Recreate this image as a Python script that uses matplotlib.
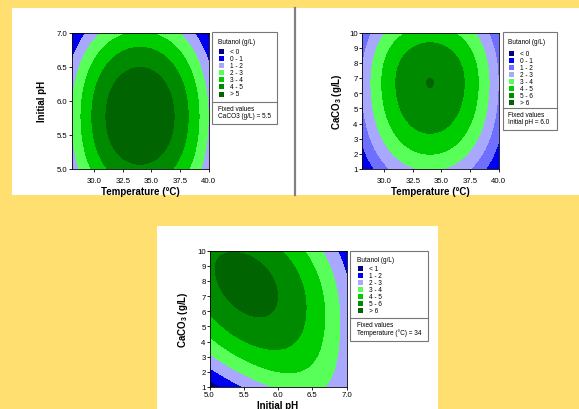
import numpy as np
import matplotlib
matplotlib.use('Agg')
import matplotlib.pyplot as plt
from matplotlib.patches import Rectangle

plt.rcParams['font.family'] = ['Liberation Sans', 'DejaVu Sans']
plt.rcParams['mathtext.fontset'] = 'custom'
plt.rcParams['mathtext.rm'] = 'Liberation Sans'
plt.rcParams['mathtext.bf'] = 'Liberation Sans:bold'

# ---- data ----
# each surface is described by its ridge: best butanol along x, the y where it sits,
# and how fast it falls off above / below that ridge (values at three x positions)
temp_knots = [28.0, 34.0, 40.0]
ph_knots = [5.0, 6.0, 7.0]

# top left: temperature vs initial pH, CaCO3 held at 5.5
p1_peak = [1.96, 6.00, 1.96]
p1_ridge = [5.77, 5.77, 5.77]
p1_curv_up = [1.50, 1.95, 1.50]
p1_curv_down = [1.20, 2.04, 1.20]

# top right: temperature vs CaCO3, pH held at 6.0
p2_peak = [1.96, 6.01, 1.96]
p2_ridge = [6.70, 6.70, 6.70]
p2_curv_up = [0.085, 0.147, 0.085]
p2_curv_down = [0.063, 0.090, 0.063]

# bottom: initial pH vs CaCO3, temperature held at 34
p3_peak = [5.85, 5.99, 2.50]
p3_ridge = [9.00, 7.00, 5.20]
p3_curv_up = [0.130, 0.095, 0.050]
p3_curv_down = [0.085, 0.080, 0.020]

levels_a = [-99, 0, 1, 2, 3, 4, 5, 99]
labels_a = ['< 0', '0 - 1', '1 - 2', '2 - 3', '3 - 4', '4 - 5', '> 5']
levels_b = [-99, 0, 1, 2, 3, 4, 5, 6, 99]
labels_b = ['< 0', '0 - 1', '1 - 2', '2 - 3', '3 - 4', '4 - 5', '5 - 6', '> 6']
levels_c = [-99, 1, 2, 3, 4, 5, 6, 99]
labels_c = ['< 1', '1 - 2', '2 - 3', '3 - 4', '4 - 5', '5 - 6', '> 6']

NAVY, BLUE, MID, LAV = '#000080', '#0000F0', '#6E6EFF', '#A8A8FF'
LGREEN, GREEN, DGREEN, DDGREEN = '#58FF58', '#00CD00', '#008A00', '#006400'
colors_a = [NAVY, BLUE, LAV, LGREEN, GREEN, DGREEN, DDGREEN]
colors_b = [NAVY, BLUE, MID, LAV, LGREEN, GREEN, DGREEN, DDGREEN]
colors_c = [NAVY, BLUE, LAV, LGREEN, GREEN, DGREEN, DDGREEN]

W, H = 579, 410
fig = plt.figure(figsize=(W / 100, H / 100), dpi=100)
fig.patch.set_facecolor('#FFDF70')

bg = fig.add_axes([0, 0, 1, 1])
bg.set_xlim(0, W)
bg.set_ylim(H, 0)
bg.axis('off')
bg.add_patch(Rectangle((12, 9), W - 12, 187, fc='white', ec='none'))
bg.add_patch(Rectangle((157, 227), 281, H - 227, fc='white', ec='none'))
bg.plot([295, 295], [9, 196], color='#808080', lw=1.6)


def surface(knots, peak, ridge, up, down, x, y):
    X, Y = np.meshgrid(x, y)
    q = lambda v: np.polyval(np.polyfit(knots, v, 2), X)
    d = Y - q(ridge)
    curv = np.where(d > 0, q(up), q(down))
    return X, Y, q(peak) - curv * d ** 2


def px_axes(x0, y0, x1, y1):
    ax = fig.add_axes([x0 / W, 1 - y1 / H, (x1 - x0) / W, (y1 - y0) / H])
    ax.set_zorder(2)
    return ax


def style(ax, xlabel, ylabel, ylab_x, xlab_y=-0.161, xpad=3.5):
    ax.tick_params(length=2, width=0.6, labelsize=5.6)
    ax.tick_params(axis='x', pad=xpad)
    ax.tick_params(axis='y', pad=0.8)
    for s in ax.spines.values():
        s.set_linewidth(0.6)
    ax.set_xlabel(xlabel, fontsize=7, fontweight='bold', va='center')
    ax.set_ylabel(ylabel, fontsize=7, fontweight='bold', va='center')
    ax.xaxis.set_label_coords(0.5, xlab_y)
    ax.yaxis.set_label_coords(ylab_x, 0.5)


def key(x0, x1, y0, ydiv, y1, tx, sqx, labx, row0, labels, colors, fixed):
    bg.add_patch(Rectangle((x0, y0), x1 - x0, y1 - y0, fc='white', ec='#777777', lw=0.8))
    bg.plot([x0, x1], [ydiv, ydiv], color='#777777', lw=0.8)
    bg.text(tx, y0 + 9, 'Butanol (g/L)', fontsize=4.7, va='center', ha='left')
    for i, (lab, col) in enumerate(zip(labels, colors)):
        yy = row0 + i * 7.05
        bg.add_patch(Rectangle((sqx, yy - 2.5), 5, 5, fc=col, ec='none'))
        bg.text(labx, yy, lab, fontsize=4.7, va='center', ha='left')
    bg.text(tx, ydiv + 6.8, 'Fixed values', fontsize=4.7, va='center', ha='left')
    bg.text(tx, ydiv + 14, fixed, fontsize=4.7, va='center', ha='left')


temp = np.linspace(28, 40, 400)
ph = np.linspace(5, 7, 400)
caco3 = np.linspace(1, 10, 400)

# top left
ax1 = px_axes(71.5, 33.5, 208.5, 170)
X, Y, Z = surface(temp_knots, p1_peak, p1_ridge, p1_curv_up, p1_curv_down, temp, ph)
ax1.contourf(X, Y, Z, levels=levels_a, colors=colors_a)
ax1.set_xlim(28, 40)
ax1.set_ylim(5, 7)
ax1.set_xticks([30, 32.5, 35, 37.5, 40])
ax1.set_xticklabels(['30.0', '32.5', '35.0', '37.5', '40.0'])
ax1.set_yticks([5, 5.5, 6, 6.5, 7])
ax1.set_yticklabels(['5.0', '5.5', '6.0', '6.5', '7.0'])
style(ax1, 'Temperature (°C)', 'Initial pH', -0.215)
key(212.3, 276.7, 33.3, 102.7, 125, 218.3, 219.3, 230, 52.7, labels_a, colors_a,
    'CaCO3 (g/L) = 5.5')

# top right
ax2 = px_axes(361.5, 33.5, 498.5, 170)
X, Y, Z = surface(temp_knots, p2_peak, p2_ridge, p2_curv_up, p2_curv_down, temp, caco3)
ax2.contourf(X, Y, Z, levels=levels_b, colors=colors_b)
ax2.set_xlim(28, 40)
ax2.set_ylim(1, 10)
ax2.set_xticks([30, 32.5, 35, 37.5, 40])
ax2.set_xticklabels(['30.0', '32.5', '35.0', '37.5', '40.0'])
ax2.set_yticks(range(1, 11))
style(ax2, 'Temperature (°C)', r'CaCO$_\mathbf{3}$ (g/L)', -0.181)
key(502.7, 556.7, 33.3, 108.5, 131, 508.3, 508.7, 520, 54, labels_b, colors_b,
    'Initial pH = 6.0')

# bottom
ax3 = px_axes(209.5, 251.7, 346.5, 388)
X, Y, Z = surface(ph_knots, p3_peak, p3_ridge, p3_curv_up, p3_curv_down, ph, caco3)
ax3.contourf(X, Y, Z, levels=levels_c, colors=colors_c)
ax3.set_xlim(5, 7)
ax3.set_ylim(1, 10)
ax3.set_xticks([5, 5.5, 6, 6.5, 7])
ax3.set_xticklabels(['5.0', '5.5', '6.0', '6.5', '7.0'])
ax3.set_yticks(range(1, 11))
style(ax3, 'Initial pH', r'CaCO$_\mathbf{3}$ (g/L)', -0.195, xlab_y=-0.132, xpad=1.0)
key(350, 427.7, 251.7, 319, 341.7, 357.3, 358.3, 369, 269.5, labels_c, colors_c,
    'Temperature (°C) = 34')

fig.savefig('out.png', dpi=100, facecolor=fig.get_facecolor())
